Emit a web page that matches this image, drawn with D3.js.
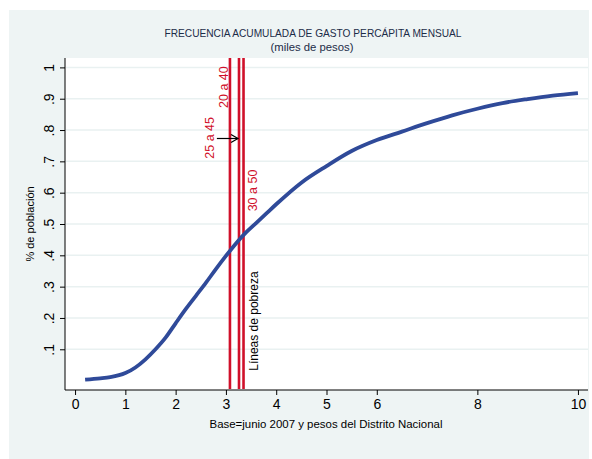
<!DOCTYPE html>
<html><head><meta charset="utf-8">
<script src="https://cdn.jsdelivr.net/npm/d3@7"></script>
<style>body{margin:0;background:#fff}</style>
</head><body>
<svg id="c" width="592" height="459"></svg>
<script>
const gastoX = [0.2,0.5,0.7,1.0,1.2,1.4,1.6,1.8,2.0,2.2,2.4,2.6,2.8,3.0,3.2,3.4,3.6,3.8,4.0,4.5,5.0,5.5,6.0,6.5,7.0,7.5,8.0,8.5,9.0,9.5,10.0];
const frecY  = [0.003,0.007,0.011,0.024,0.042,0.068,0.100,0.137,0.183,0.228,0.270,0.312,0.356,0.398,0.438,0.473,0.503,0.533,0.563,0.632,0.685,0.733,0.768,0.795,0.822,0.847,0.868,0.886,0.899,0.910,0.918];
const lineasX = [3.08, 3.26, 3.35];
const lineasLab = ["25 a 45", "20 a 40", "30 a 50"];
const xTicks = [0,1,2,3,4,5,6,8,10];
const yTicks = [0.1,0.2,0.3,0.4,0.5,0.6,0.7,0.8,0.9,1];
const yTickLab = [".1",".2",".3",".4",".5",".6",".7",".8",".9","1"];

const svg = d3.select("#c");
const x = d3.scaleLinear().domain([-0.2,10.2]).range([65,588]);
const y = d3.scaleLinear().domain([-0.03,1.03]).range([390,58]);
const narrow = "'Liberation Sans Narrow','Arial Narrow','Liberation Sans',sans-serif";
const sans = "'Liberation Sans',Arial,sans-serif";

svg.append("rect").attr("x",9).attr("y",10).attr("width",580).attr("height",449).attr("fill","#eef4f4");
svg.append("rect").attr("x",65).attr("y",58).attr("width",523).attr("height",332).attr("fill","#fff");

// gridlines
svg.append("g").selectAll("line").data(yTicks).join("line")
  .attr("x1",66).attr("x2",588).attr("y1",d=>y(d)).attr("y2",d=>y(d))
  .attr("stroke","#e9f1f1").attr("stroke-width",1.5);

// axes
const yAx = svg.append("g").attr("transform","translate(65,0)")
  .call(d3.axisLeft(y).tickValues(yTicks).tickSize(5).tickFormat((d,i)=>yTickLab[i]));
yAx.select(".domain").attr("d","M0,58V390").attr("stroke","#000");
yAx.selectAll(".tick text").attr("font-family",sans).attr("font-size",14).attr("fill","#000")
  .attr("text-anchor","middle").attr("dy","0")
  .attr("transform","translate(-11,0) rotate(-90)").attr("x",0).attr("y",0);

const xAx = svg.append("g").attr("transform","translate(0,390)")
  .call(d3.axisBottom(x).tickValues(xTicks).tickSize(5).tickFormat(d3.format("d")));
xAx.select(".domain").attr("d","M65,0H588").attr("stroke","#000");
xAx.selectAll("text").attr("font-family",sans).attr("font-size",14).attr("fill","#000").attr("y",9).attr("dy","0.71em");

// red lines
svg.append("g").selectAll("line").data(lineasX).join("line")
  .attr("x1",d=>x(d)).attr("x2",d=>x(d)).attr("y1",58).attr("y2",389)
  .attr("stroke","#d0102a").attr("stroke-width",2.6);

// curve
svg.append("path").datum(gastoX.map((d,i)=>[d,frecY[i]]))
  .attr("d",d3.line().x(d=>x(d[0])).y(d=>y(d[1])).curve(d3.curveMonotoneX))
  .attr("fill","none").attr("stroke","#2f4a99").attr("stroke-width",3.8).attr("stroke-linecap","butt");

// labels on lines
const labPos = [[2.76,0.775],[3.04,0.937],[3.62,0.607]];
labPos.forEach((p,i)=>{
  svg.append("text").attr("transform",`translate(${x(p[0])},${y(p[1])}) rotate(-90)`)
    .attr("text-anchor","middle").attr("font-family",sans).attr("font-size",12.5).attr("fill","#d0102a").text(lineasLab[i]);
});
svg.append("text").attr("transform",`translate(${x(3.64)},${y(0.19)}) rotate(-90)`)
  .attr("text-anchor","middle").attr("font-family",sans).attr("font-size",12).attr("fill","#000").text("Líneas de pobreza");

// arrow
const ay = y(0.773);
svg.append("line").attr("x1",x(2.82)).attr("x2",x(3.24)).attr("y1",ay).attr("y2",ay).attr("stroke","#000").attr("stroke-width",1.2);
svg.append("path").attr("d",`M${x(3.24)-7},${ay-4}L${x(3.24)},${ay}L${x(3.24)-7},${ay+4}`).attr("fill","none").attr("stroke","#000").attr("stroke-width",1.2);

// titles
svg.append("text").attr("x",313).attr("y",37).attr("text-anchor","middle").attr("font-family",narrow).attr("font-size",11.5).attr("fill","#1c2c48")
  .attr("textLength",297).attr("lengthAdjust","spacingAndGlyphs")
  .text("FRECUENCIA ACUMULADA DE GASTO PERCÁPITA MENSUAL");
svg.append("text").attr("x",312).attr("y",51).attr("text-anchor","middle").attr("font-family",narrow).attr("font-size",11.5).attr("fill","#1c2c48")
  .attr("textLength",83).attr("lengthAdjust","spacingAndGlyphs")
  .text("(miles de pesos)");
svg.append("text").attr("transform","translate(34,224) rotate(-90)").attr("text-anchor","middle").attr("font-family",narrow).attr("font-size",11).attr("fill","#000")
  .text("% de población");
svg.append("text").attr("x",326).attr("y",428).attr("text-anchor","middle").attr("font-family",narrow).attr("font-size",11.5).attr("fill","#000")
  .attr("textLength",233).attr("lengthAdjust","spacingAndGlyphs")
  .text("Base=junio 2007 y pesos del Distrito Nacional");
</script>
</body></html>
